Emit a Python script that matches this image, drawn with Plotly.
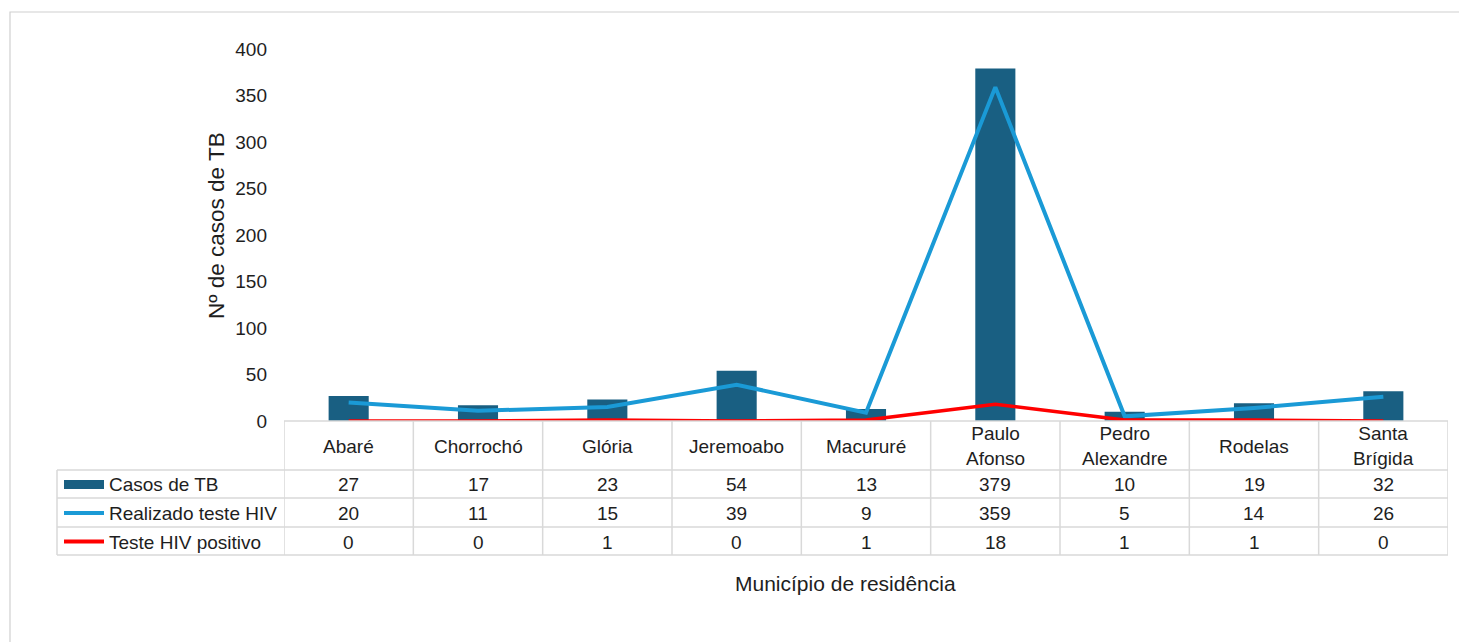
import plotly.graph_objects as go

categories = ["Abaré", "Chorrochó", "Glória", "Jeremoabo", "Macururé",
              "Paulo Afonso", "Pedro Alexandre", "Rodelas", "Santa Brígida"]
header_labels = ["Abaré", "Chorrochó", "Glória", "Jeremoabo", "Macururé",
                 "Paulo<br>Afonso", "Pedro<br>Alexandre", "Rodelas", "Santa<br>Brígida"]
casos_tb = [27, 17, 23, 54, 13, 379, 10, 19, 32]
teste_hiv = [20, 11, 15, 39, 9, 359, 5, 14, 26]
hiv_positivo = [0, 0, 1, 0, 1, 18, 1, 1, 0]
series_names = ["Casos de TB", "Realizado teste HIV", "Teste HIV positivo"]
y_ticks = [0, 50, 100, 150, 200, 250, 300, 350, 400]

OFF = 8  # page body margin
W, H = 1467 - OFF, 642 - OFF
L = 284 - OFF
T = 49 - OFF
R = W - (1448 - OFF)
B = H - (421 - OFF)
PW = W - L - R
PH = H - T - B

BAR_C = "#195f82"
BLUE_C = "#1a9ad6"
RED_C = "#ff0000"
GRID_C = "#d9d9d9"
TXT_C = "#1e1e1e"
FONT = "Liberation Sans, Arial, sans-serif"
FS = 19


def py(p):
    # reference pixel -> paper y
    return ((421 - OFF) - (p - OFF)) / PH


def px(p):
    # reference pixel -> paper x
    return ((p - OFF) - L) / PW


fig = go.Figure()
fig.add_trace(go.Bar(x=categories, y=casos_tb, name=series_names[0],
                     marker=dict(color=BAR_C, line=dict(width=0)), width=0.31))
fig.add_trace(go.Scatter(x=categories, y=teste_hiv, name=series_names[1], mode="lines",
                         line=dict(color=BLUE_C, width=4)))
fig.add_trace(go.Scatter(x=categories, y=hiv_positivo, name=series_names[2], mode="lines",
                         line=dict(color=RED_C, width=3.5)))

shapes = []
annotations = []

# outer frame
shapes.append(dict(type="rect", xref="paper", yref="paper",
                   x0=px(10), x1=px(1520), y0=py(12), y1=py(720),
                   line=dict(color="#d0d0d0", width=1.2), layer="below"))

n = len(categories)
row_lines = [421, 470, 498, 527, 555]
shapes.append(dict(type="line", xref="paper", yref="paper", x0=0, x1=1,
                   y0=py(421), y1=py(421), line=dict(color=GRID_C, width=1.5)))
for r in row_lines[1:]:
    shapes.append(dict(type="line", xref="paper", yref="paper", x0=px(57), x1=1,
                       y0=py(r), y1=py(r), line=dict(color=GRID_C, width=1.5)))
shapes.append(dict(type="line", xref="paper", yref="paper", x0=px(57), x1=px(57),
                   y0=py(470), y1=py(555), line=dict(color=GRID_C, width=1.5)))
for k in range(n + 1):
    shapes.append(dict(type="line", xref="x", yref="paper", x0=k - 0.5, x1=k - 0.5,
                       y0=py(421), y1=py(555), line=dict(color=GRID_C, width=1.5)))

txt_font = dict(size=FS, color=TXT_C, family=FONT)

for i, lab in enumerate(header_labels):
    annotations.append(dict(x=categories[i], xref="x", y=py(446), yref="paper",
                            text=lab, showarrow=False, xanchor="center", yanchor="middle",
                            font=txt_font))

rows = [casos_tb, teste_hiv, hiv_positivo]
row_centers = [484, 513, 542]
for vals, yc in zip(rows, row_centers):
    for i, v in enumerate(vals):
        annotations.append(dict(x=categories[i], xref="x", y=py(yc), yref="paper",
                                text=str(v), showarrow=False, xanchor="center",
                                yanchor="middle", font=txt_font))

shapes.append(dict(type="rect", xref="paper", yref="paper", x0=px(64), x1=px(104),
                   y0=py(480), y1=py(489), fillcolor=BAR_C, line=dict(width=0)))
shapes.append(dict(type="line", xref="paper", yref="paper", x0=px(64), x1=px(104),
                   y0=py(513), y1=py(513), line=dict(color=BLUE_C, width=4)))
shapes.append(dict(type="line", xref="paper", yref="paper", x0=px(64), x1=px(104),
                   y0=py(541.5), y1=py(541.5), line=dict(color=RED_C, width=4)))
for name, yc in zip(series_names, row_centers):
    annotations.append(dict(x=px(107), xref="paper", y=py(yc), yref="paper",
                            text=name, showarrow=False, xanchor="left", yanchor="middle",
                            font=txt_font))

annotations.append(dict(x=px(845), xref="paper", y=py(583), yref="paper",
                        text="Município de residência", showarrow=False,
                        xanchor="center", yanchor="middle",
                        font=dict(size=21, color=TXT_C, family=FONT)))
annotations.append(dict(x=px(216), xref="paper", y=py(226), yref="paper",
                        text="Nº de casos de TB", showarrow=False, textangle=-90,
                        xanchor="center", yanchor="middle",
                        font=dict(size=22.5, color=TXT_C, family=FONT)))

fig.update_layout(
    width=W, height=H,
    margin=dict(l=L, r=R, t=T, b=B, pad=0),
    paper_bgcolor="white", plot_bgcolor="white",
    showlegend=False,
    shapes=shapes, annotations=annotations,
    font=dict(family=FONT, color=TXT_C),
)
fig.update_xaxes(range=[-0.5, n - 0.5], showticklabels=False, showgrid=False,
                 zeroline=False, showline=False, ticks="")
fig.update_yaxes(range=[0, 400], tickvals=y_ticks, showgrid=False, zeroline=False,
                 showline=False, ticks="", ticklabelstandoff=16,
                 tickfont=dict(size=FS, color=TXT_C, family=FONT))

fig.write_html("out.html")
